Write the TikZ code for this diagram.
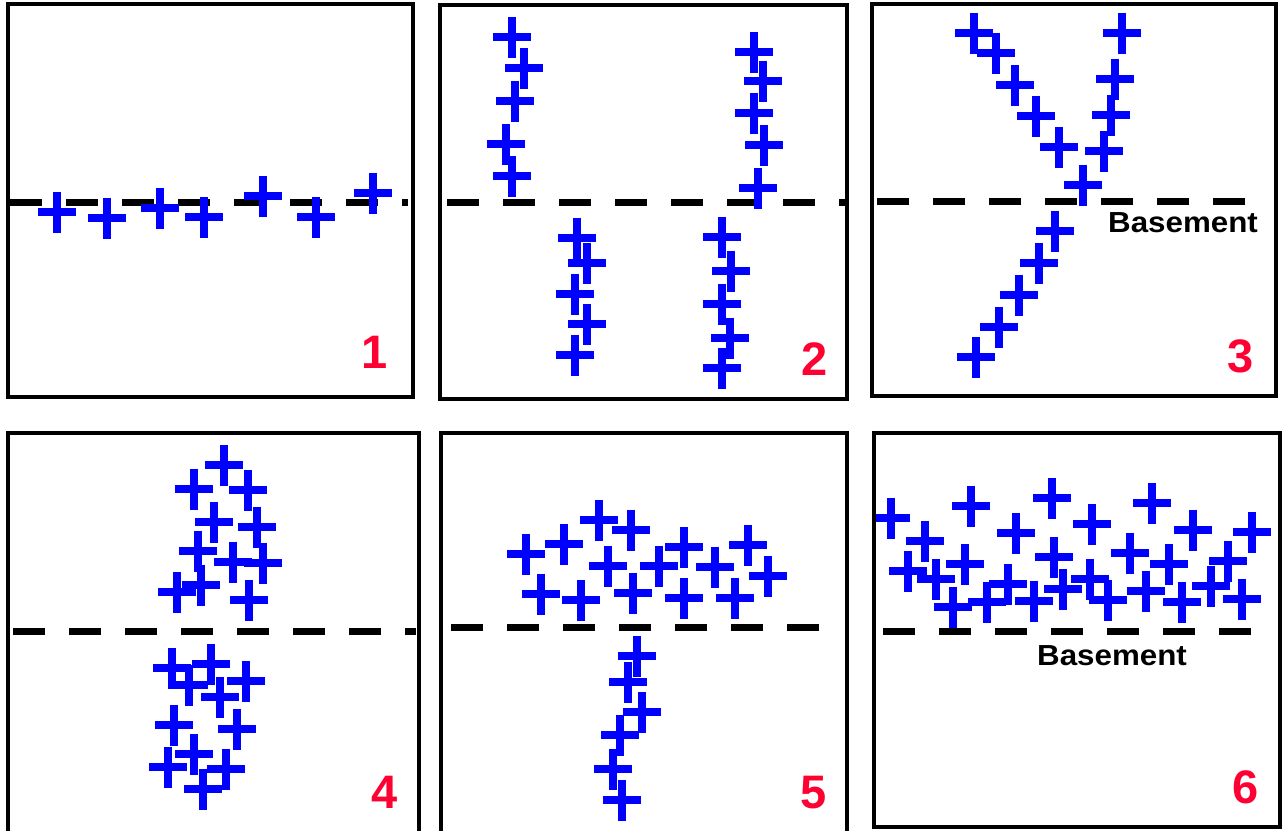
\documentclass[tikz,border=0pt]{standalone}
\usepackage{fontspec}
\setmainfont{Liberation Sans}
\definecolor{numred}{RGB}{255,0,51}

\begin{document}
\begin{tikzpicture}[x=1pt,y=-1pt,
  frame/.style={draw,line width=3.7pt},
  ground/.style={draw,line width=7pt,dash pattern=on 32pt off 24pt},
  plusline/.style={draw=blue,line width=7.5pt},
  panelnum/.style={text=numred,font=\fontsize{47}{47}\selectfont\bfseries,anchor=base,inner sep=0pt},
  basetext/.style={font=\fontsize{29}{29}\selectfont\bfseries\addfontfeature{FakeStretch=1.08},anchor=base,inner sep=0pt}]
\useasboundingbox (0,0) rectangle (1285,830);
\clip (0,0) rectangle (1285,830);

% basement lines
\draw[ground] (10,202)--(408,202);
\draw[ground] (447,202)--(845,202);
\draw[ground] (877,201)--(1246,201);
\draw[ground] (13,631)--(416,631);
\draw[ground] (451,627)--(819,627);
\draw[ground] (883,631)--(1251,631);

% plus marks, panel by panel
\foreach \px/\py in {57/212,107/218,160/208,204/217,263/196,316/217,373/193,
  512/37,524/68,515/101,506/144,512/176,754/52,763/81,754/113,764/145,758/188,
  577/238,587/263,575/294,587/324,575/355,722/237,731/271,722/304,730/338,722/368,
  974/33,996/53,1015/85,1036/116,1059/147,1083/185,1122/33,1115/79,1111/115,1104/151,
  1055/231,1039/263,1019/295,999/327,976/357}
  \draw[plusline] (\px,\py) +(-19,0) -- +(19,0) +(0,-20.5) -- +(0,20.5);
\foreach \px/\py in {224/465,194/489,248/490,214/522,257/527,198/551,233/562,263/563,
  177/592,201/585,249/600,172/668,211/664,189/685,246/681,220/697,174/725,237/729,
  194/754,168/767,226/769,203/789,
  526/554,564/544,599/520,631/530,684/547,748/545,608/566,659/566,715/567,768/576,
  541/594,581/600,633/593,684/598,735/598,637/656,628/682,642/712,620/735,613/769,622/800}
  \draw[plusline] (\px,\py) +(-19,0) -- +(19,0) +(0,-20.5) -- +(0,20.5);
\foreach \px/\py in {891/518,925/541,971/506,1016/533,1052/498,1092/524,1152/503,1193/530,
  1252/532,908/571,936/579,965/564,1054/557,1130/553,1169/564,1228/561,953/607,987/602,
  1008/584,1034/601,1063/589,1090/579,1108/600,1146/591,1182/602,1211/586,1242/599}
  \draw[plusline] (\px,\py) +(-19,0) -- +(19,0) +(0,-20.5) -- +(0,20.5);

\draw[frame] (8,4) rectangle (413,397);
\draw[frame] (440,5) rectangle (847,399);
\draw[frame] (872,4) rectangle (1276,396);
\draw[frame] (8,433) rectangle (419,850);
\draw[frame] (441,433) rectangle (847,850);
\draw[frame] (874,433) rectangle (1280,827);

\foreach \n/\x/\y in {1/375/368,2/815/375,3/1241/372,4/385/808,5/814/808,6/1246/803}
  \node[panelnum] (num\n) at (\x,\y) {\n};
\node[basetext] (base3) at (1183,232) {Basement};
\node[basetext] (base6) at (1112,665) {Basement};
\end{tikzpicture}
\end{document}
